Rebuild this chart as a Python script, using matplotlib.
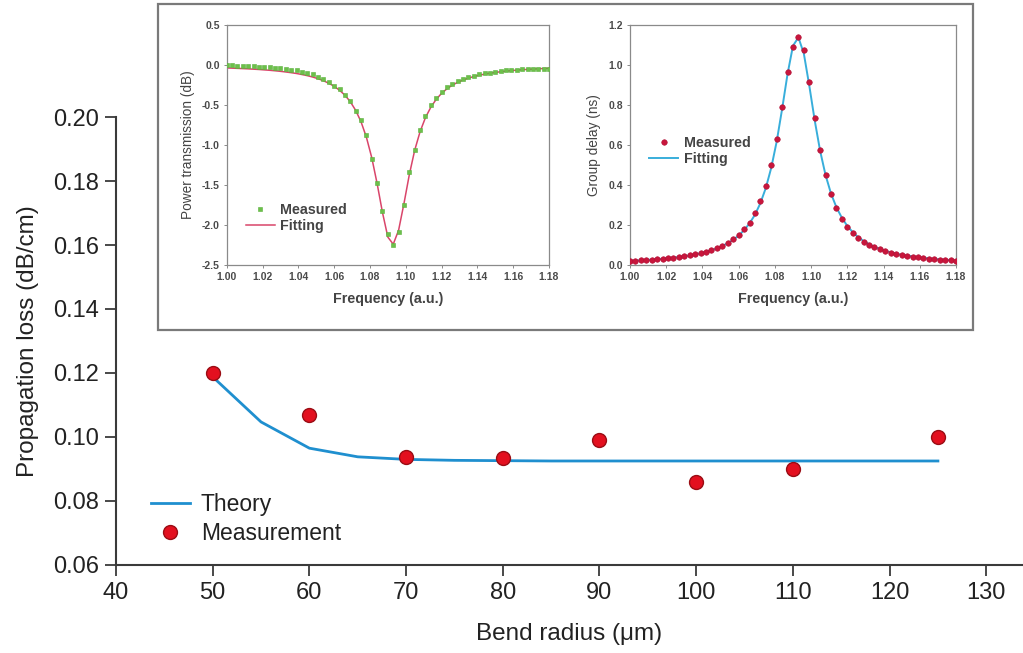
import numpy as np
import matplotlib
matplotlib.use('Agg')
import matplotlib.pyplot as plt
from matplotlib.patches import Rectangle

plt.rcParams['font.family'] = ['Liberation Sans', 'DejaVu Sans']

# Main panel: propagation loss vs bend radius
theory_radius = [50, 55, 60, 65, 70, 75, 80, 85, 90, 95, 100, 105, 110, 115, 120, 125]
theory_loss = [0.1188, 0.1047, 0.0965, 0.0938, 0.0930, 0.0927, 0.0926, 0.0925,
               0.0925, 0.0925, 0.0925, 0.0925, 0.0925, 0.0925, 0.0925, 0.0925]
meas_radius = [50, 60, 70, 80, 90, 100, 110, 125]
meas_loss = [0.120, 0.107, 0.0938, 0.0934, 0.0991, 0.0859, 0.0900, 0.1000]

# Inset sweeps (frequency in a.u.), 61 points from 1.00 to 1.18
freq = np.linspace(1.0, 1.18, 61)
power_fit = [-0.037, -0.039, -0.042, -0.045, -0.048, -0.052, -0.056, -0.061, -0.066, -0.072,
             -0.079, -0.087, -0.096, -0.106, -0.119, -0.133, -0.150, -0.171, -0.196, -0.228,
             -0.266, -0.315, -0.377, -0.458, -0.566, -0.709, -0.902, -1.158, -1.482, -1.845,
             -2.152, -2.240, -2.065, -1.730, -1.368, -1.064, -0.832, -0.657, -0.527, -0.429,
             -0.354, -0.297, -0.252, -0.216, -0.188, -0.164, -0.144, -0.128, -0.114, -0.103,
             -0.093, -0.084, -0.077, -0.070, -0.064, -0.059, -0.055, -0.051, -0.047, -0.044,
             -0.041]
power_meas = [0.000, -0.003, -0.008, -0.010, -0.013, -0.017, -0.020, -0.025, -0.030, -0.036,
              -0.042, -0.050, -0.058, -0.068, -0.082, -0.098, -0.118, -0.145, -0.180, -0.215,
              -0.260, -0.305, -0.372, -0.445, -0.570, -0.690, -0.880, -1.170, -1.470, -1.820,
              -2.110, -2.250, -2.090, -1.750, -1.340, -1.060, -0.810, -0.640, -0.500, -0.410,
              -0.335, -0.280, -0.235, -0.200, -0.172, -0.150, -0.132, -0.117, -0.104, -0.094,
              -0.084, -0.075, -0.068, -0.062, -0.057, -0.053, -0.050, -0.048, -0.047, -0.046,
              -0.046]
delay_fit = [0.020, 0.022, 0.023, 0.025, 0.027, 0.029, 0.031, 0.034, 0.037, 0.040,
             0.044, 0.048, 0.053, 0.059, 0.066, 0.074, 0.083, 0.095, 0.109, 0.126,
             0.147, 0.174, 0.208, 0.251, 0.309, 0.385, 0.486, 0.617, 0.780, 0.955,
             1.096, 1.138, 1.057, 0.897, 0.723, 0.570, 0.449, 0.357, 0.288, 0.236,
             0.195, 0.164, 0.139, 0.120, 0.104, 0.091, 0.080, 0.071, 0.063, 0.057,
             0.051, 0.047, 0.043, 0.039, 0.036, 0.033, 0.030, 0.028, 0.026, 0.024,
             0.023]
delay_meas = [0.019, 0.021, 0.023, 0.025, 0.027, 0.029, 0.031, 0.034, 0.037, 0.041,
              0.045, 0.049, 0.054, 0.060, 0.067, 0.075, 0.085, 0.096, 0.110, 0.128,
              0.150, 0.178, 0.212, 0.262, 0.320, 0.395, 0.500, 0.630, 0.790, 0.965,
              1.090, 1.142, 1.075, 0.915, 0.735, 0.575, 0.450, 0.355, 0.285, 0.232,
              0.190, 0.160, 0.136, 0.117, 0.101, 0.089, 0.079, 0.070, 0.062, 0.056,
              0.050, 0.046, 0.042, 0.038, 0.035, 0.032, 0.030, 0.027, 0.025, 0.023,
              0.022]

fig = plt.figure(figsize=(10.23, 6.53), dpi=100)

ax = fig.add_axes([0.1134, 0.1348, 0.8866, 0.686])
ax.plot(theory_radius, theory_loss, color='#1f8fcf', lw=2.0, label='Theory', zorder=2)
ax.plot(meas_radius, meas_loss, 'o', ms=10, color='#e3101f', mec='#9a0d14', mew=1.0,
        label='Measurement', zorder=3)
ax.set_xlim(40, 133.8)
ax.set_ylim(0.06, 0.20)
ax.set_xticks(range(40, 131, 10))
ax.set_yticks(np.arange(0.06, 0.201, 0.02))
ax.yaxis.set_major_formatter(plt.FormatStrFormatter('%.2f'))
for side in ['top', 'right']:
    ax.spines[side].set_visible(False)
for side in ['left', 'bottom']:
    ax.spines[side].set_color('#3a3a3a')
    ax.spines[side].set_linewidth(1.5)
ax.tick_params(direction='out', length=8, width=1.3, color='#3a3a3a',
               labelsize=17, labelcolor='#222222', pad=4)
ax.set_xlabel('Bend radius (μm)', fontsize=17.5, color='#222222', labelpad=14)
ax.set_ylabel('Propagation loss (dB/cm)', fontsize=17.5, color='#222222', labelpad=10)
ax.legend(loc='lower left', bbox_to_anchor=(0.028, 0.025), frameon=False, fontsize=16.5,
          handlelength=1.7, handletextpad=0.5, labelspacing=0.25, borderaxespad=0.0,
          labelcolor='#222222')

# Framed box holding the two resonance insets
fig.patches.append(Rectangle((0.1545, 0.4946), 0.7967, 0.4992, transform=fig.transFigure,
                             facecolor='white', edgecolor='#7a7a7a', lw=1.6, zorder=5))


def style_inset(a):
    for s in a.spines.values():
        s.set_color('#8a8a8a')
        s.set_linewidth(0.9)
    a.tick_params(direction='out', length=2.5, width=0.7, color='#8a8a8a',
                  labelsize=7.5, labelcolor='#4a4a4a', pad=2.5)
    for t in a.get_xticklabels() + a.get_yticklabels():
        t.set_fontweight('bold')
    a.set_xlim(1.0, 1.18)
    a.set_xlabel('Frequency (a.u.)', fontsize=10.3, fontweight='bold', color='#444444',
                 labelpad=7)


ax1 = fig.add_axes([0.2216, 0.5942, 0.3151, 0.3675], zorder=6)
ax1.plot(freq, power_fit, color='#d9456a', lw=1.1, label='Fitting', zorder=2)
ax1.plot(freq, power_meas, 's', ms=3.4, color='#6cc04a', mec='#58b03a', mew=0.4,
         label='Measured', zorder=3)
ax1.set_xticks(np.arange(1.0, 1.181, 0.02))
ax1.xaxis.set_major_formatter(plt.FormatStrFormatter('%.2f'))
ax1.set_ylim(-2.5, 0.5)
ax1.set_yticks(np.arange(-2.5, 0.51, 0.5))
ax1.yaxis.set_major_formatter(plt.FormatStrFormatter('%.1f'))
style_inset(ax1)
ax1.set_ylabel('Power transmission (dB)', fontsize=9.8, color='#444444', labelpad=5)
h, l = ax1.get_legend_handles_labels()
ax1.legend(h[::-1], l[::-1], loc='lower left', bbox_to_anchor=(0.02, 0.08), frameon=False,
           handlelength=2.0, handletextpad=0.4, labelspacing=0.15,
           prop={'weight': 'bold', 'size': 10.3}, labelcolor='#444444')

ax2 = fig.add_axes([0.6158, 0.5942, 0.3187, 0.3675], zorder=6)
ax2.plot(freq, delay_fit, color='#38aedb', lw=1.4, label='Fitting', zorder=2)
ax2.plot(freq, delay_meas, 'o', ms=4.0, color='#c8163c', mec='#b01035', mew=0.4,
         label='Measured', zorder=3)
ax2.set_xticks(np.arange(1.0, 1.181, 0.02))
ax2.xaxis.set_major_formatter(plt.FormatStrFormatter('%.2f'))
ax2.set_ylim(0, 1.2)
ax2.set_yticks(np.arange(0, 1.21, 0.2))
ax2.yaxis.set_major_formatter(plt.FormatStrFormatter('%.1f'))
style_inset(ax2)
ax2.set_ylabel('Group delay (ns)', fontsize=9.8, color='#444444', labelpad=5)
h, l = ax2.get_legend_handles_labels()
ax2.legend(h[::-1], l[::-1], loc='lower left', bbox_to_anchor=(0.02, 0.36), frameon=False,
           handlelength=2.0, handletextpad=0.4, labelspacing=0.15,
           prop={'weight': 'bold', 'size': 10.3}, labelcolor='#444444')

fig.savefig('out.png', dpi=100)
